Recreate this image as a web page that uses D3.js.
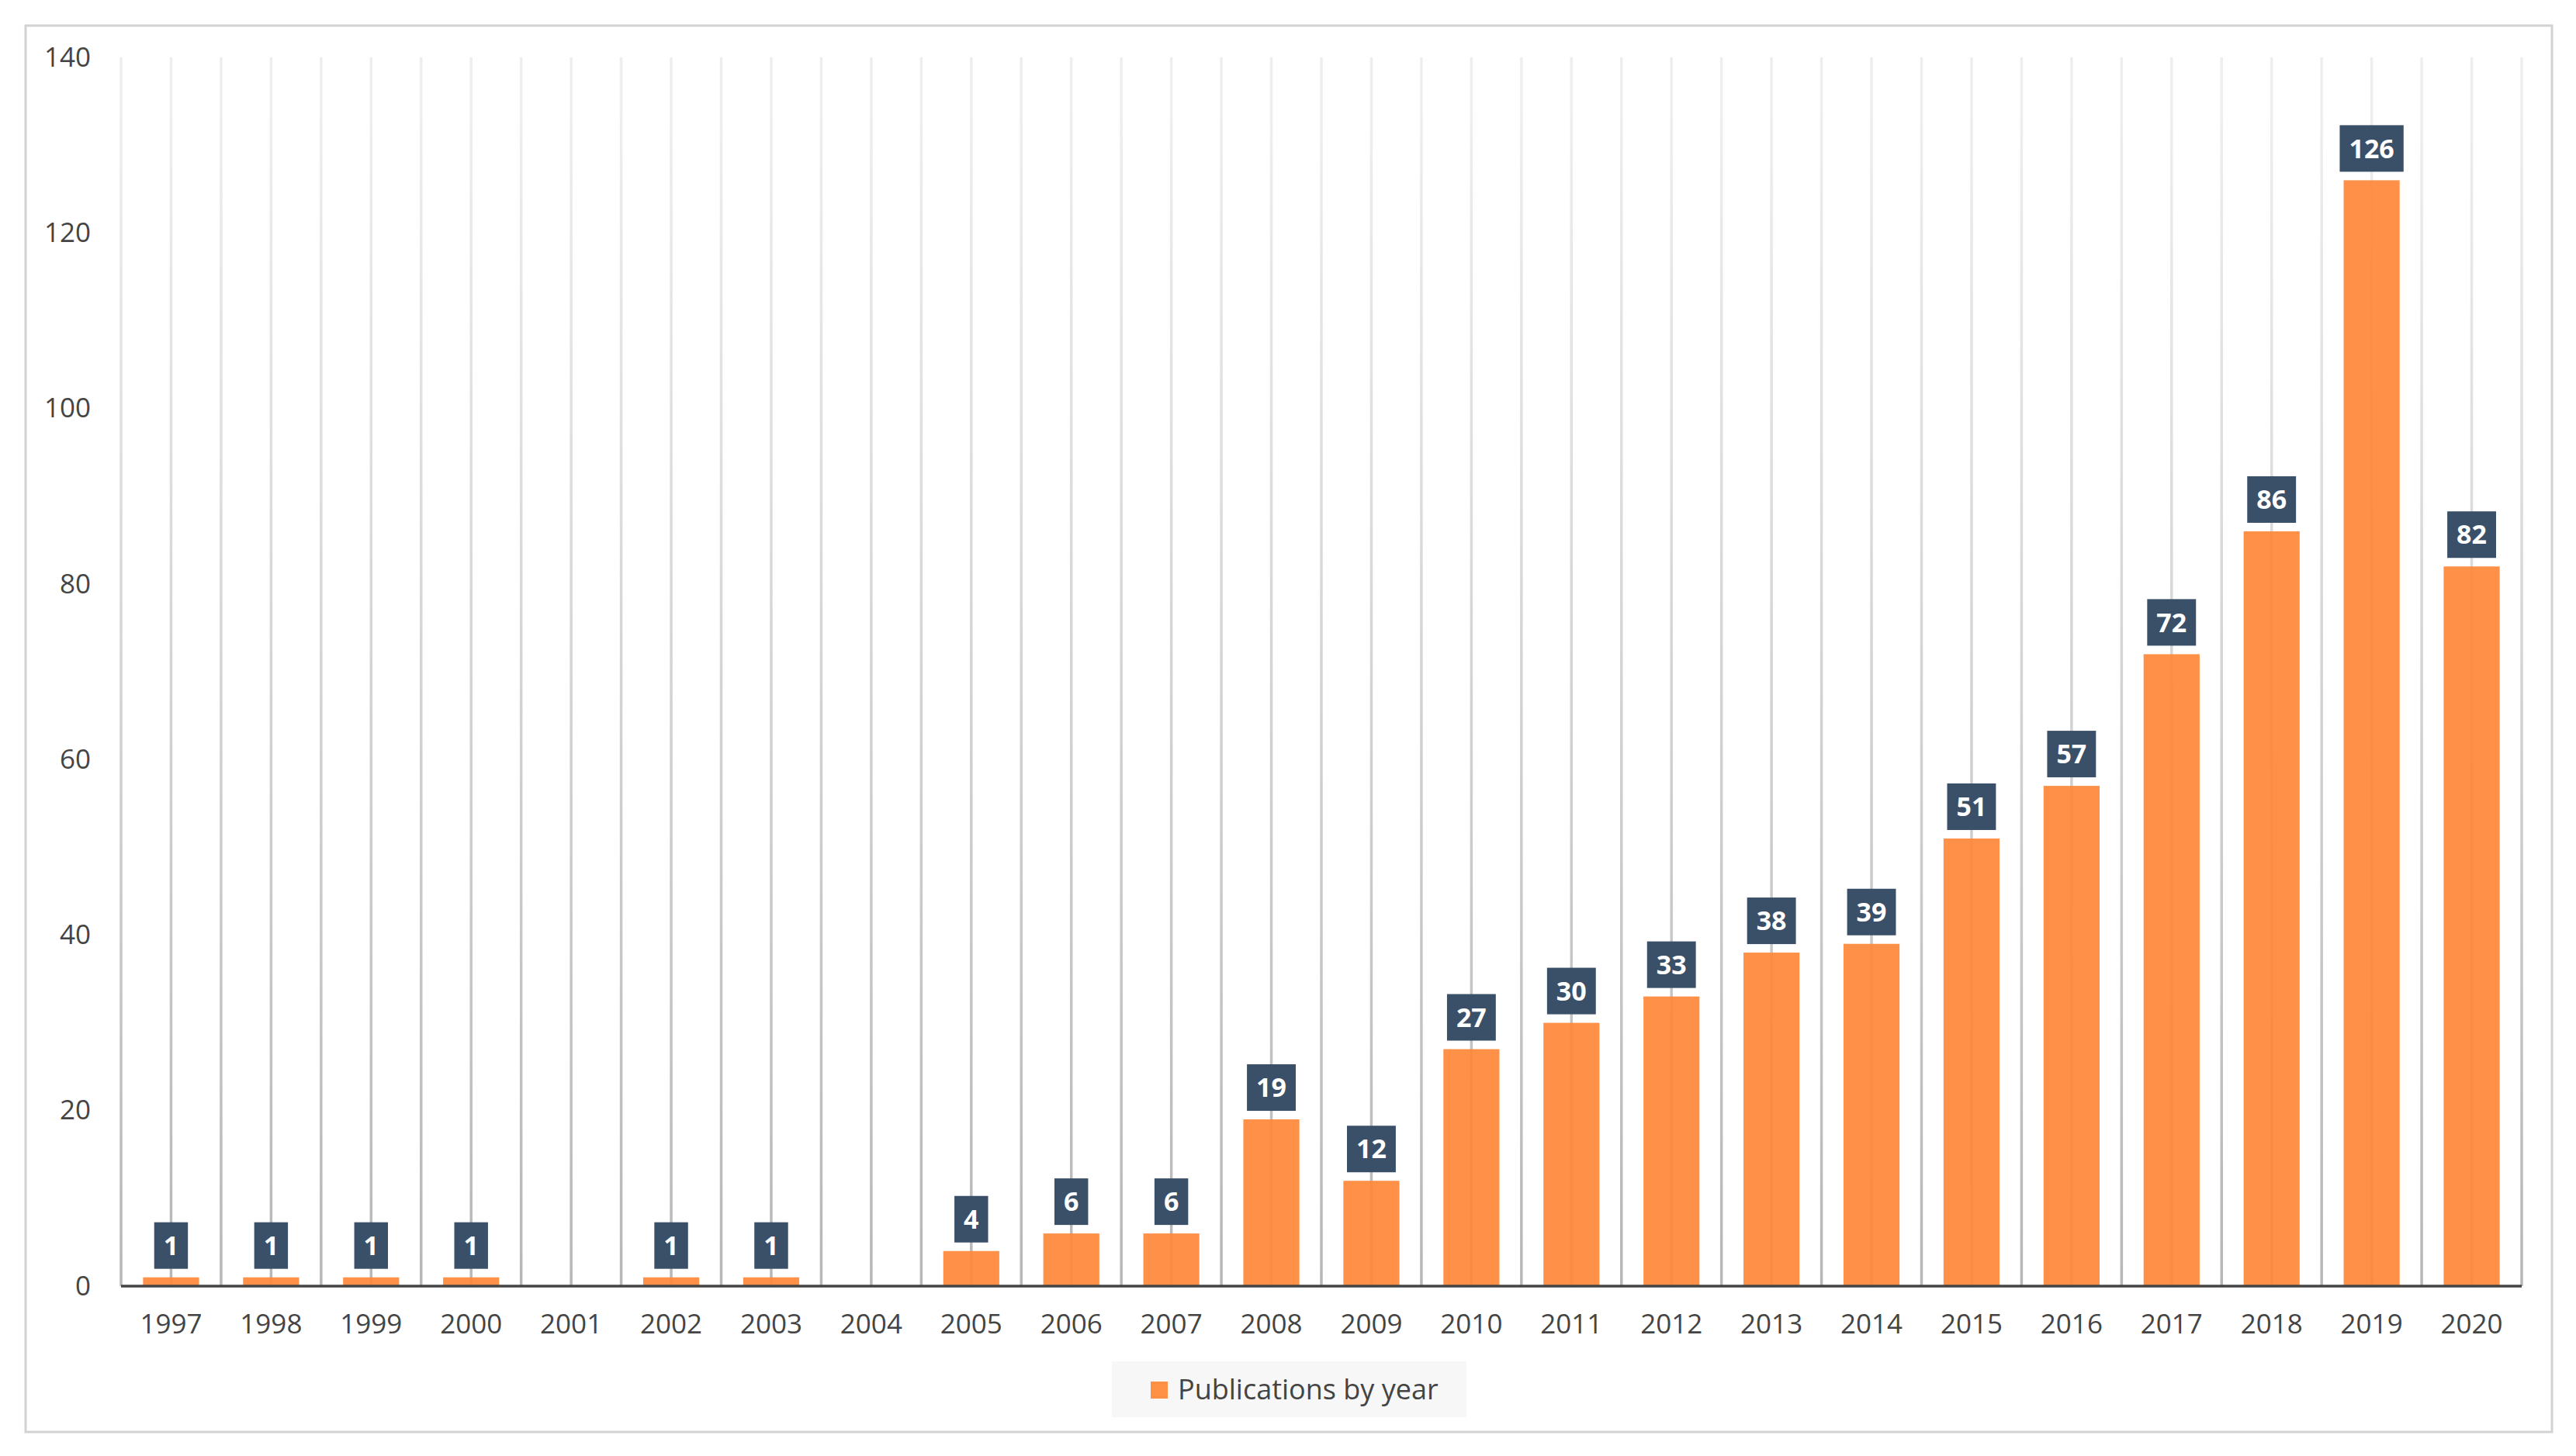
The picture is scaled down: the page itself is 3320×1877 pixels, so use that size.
<!DOCTYPE html>
<html>
<head>
<meta charset="utf-8">
<script src="https://cdn.jsdelivr.net/npm/d3@7"></script>
<style>
  body { margin: 0; background: #fff; }
  text { font-family: "Open Sans", sans-serif; }
</style>
</head>
<body>
<div id="chart"></div>
<script>
// Data
const years = ['1997','1998','1999','2000','2001','2002','2003','2004','2005','2006','2007','2008',
               '2009','2010','2011','2012','2013','2014','2015','2016','2017','2018','2019','2020'];
const publications = [1, 1, 1, 1, 0, 1, 1, 0, 4, 6, 6, 19, 12, 27, 30, 33, 38, 39, 51, 57, 72, 86, 126, 82];
const yTicks = [0, 20, 40, 60, 80, 100, 120, 140];
const seriesName = 'Publications by year';

const W = 3320, H = 1877;
const margin = {top: 74, right: 70, bottom: 219, left: 156};
const width = W - margin.left - margin.right;
const height = H - margin.top - margin.bottom;

const svg = d3.select('#chart')
    .append('svg')
    .attr('width', W)
    .attr('height', H);

// Outer frame
svg.append('rect')
    .attr('x', 33).attr('y', 33)
    .attr('width', 3256).attr('height', 1813)
    .attr('fill', '#fff')
    .attr('stroke', '#d2d2d2')
    .attr('stroke-width', 3);

// Gridline gradient (lighter at the top)
const defs = svg.append('defs');
const grad = defs.append('linearGradient')
    .attr('id', 'gridGrad')
    .attr('gradientUnits', 'userSpaceOnUse')
    .attr('x1', 0).attr('y1', margin.top)
    .attr('x2', 0).attr('y2', margin.top + height);
grad.append('stop').attr('offset', '0%').attr('stop-color', '#eeeeee');
grad.append('stop').attr('offset', '100%').attr('stop-color', '#b4b4b4');

const g = svg.append('g')
    .attr('transform', `translate(${margin.left},${margin.top})`);

// Scales
const x = d3.scaleBand()
    .domain(years)
    .range([0, width])
    .paddingInner(0.44)
    .paddingOuter(0.22);

const y = d3.scaleLinear()
    .domain([0, 140])
    .range([height, 0]);

// Vertical gridlines at category boundaries and centres
const step = x.step();
const gridX = [];
years.forEach((yr, i) => {
    gridX.push(i * step);
    gridX.push(i * step + step / 2);
});
gridX.push(years.length * step);

g.selectAll('.grid')
    .data(gridX)
    .enter()
    .append('line')
    .attr('class', 'grid')
    .attr('x1', d => d).attr('x2', d => d)
    .attr('y1', y(140)).attr('y2', y(0))
    .attr('stroke', 'url(#gridGrad)')
    .attr('stroke-width', 3.5);

// Bars
g.selectAll('.bar')
    .data(publications)
    .enter()
    .append('rect')
    .attr('class', 'bar')
    .attr('x', (d, i) => x(years[i]))
    .attr('y', d => y(d))
    .attr('width', x.bandwidth())
    .attr('height', d => height - y(d))
    .attr('fill', '#ff8737')
    .attr('fill-opacity', 0.92);

// Baseline
g.append('line')
    .attr('x1', 0).attr('x2', width)
    .attr('y1', y(0)).attr('y2', y(0))
    .attr('stroke', '#444')
    .attr('stroke-width', 3.5);

// Y axis labels
const yAxis = g.append('g')
    .call(d3.axisLeft(y).tickValues(yTicks).tickSize(0).tickPadding(39));
yAxis.select('.domain').remove();
yAxis.selectAll('text')
    .attr('font-size', 35)
    .attr('fill', '#444')
    .style('font-family', '"Open Sans", sans-serif');

// X axis labels
const xAxis = g.append('g')
    .attr('transform', `translate(0,${height})`)
    .call(d3.axisBottom(x).tickSize(0).tickPadding(36));
xAxis.select('.domain').remove();
xAxis.selectAll('text')
    .attr('font-size', 35)
    .attr('fill', '#444')
    .style('font-family', '"Open Sans", sans-serif');

// Data labels
const labels = g.selectAll('.lbl')
    .data(publications.map((v, i) => ({v, yr: years[i]})).filter(d => d.v > 0))
    .enter()
    .append('g')
    .attr('class', 'lbl');

labels.each(function(d) {
    const grp = d3.select(this);
    const cx = x(d.yr) + x.bandwidth() / 2;
    const boxBottom = y(d.v) - 11;
    const txt = grp.append('text')
        .attr('x', cx)
        .attr('y', boxBottom - 30)
        .attr('dy', '0.36em')
        .attr('text-anchor', 'middle')
        .attr('font-size', 34)
        .attr('font-weight', 'bold')
        .attr('fill', '#fff')
        .text(d.v);
    const bb = txt.node().getBBox();
    grp.insert('rect', 'text')
        .attr('x', cx - bb.width / 2 - 12)
        .attr('y', boxBottom - 60)
        .attr('width', bb.width + 24)
        .attr('height', 60)
        .attr('fill', '#3a4f68');
});

// Legend
const legend = svg.append('g');
legend.append('rect')
    .attr('x', 1433).attr('y', 1755)
    .attr('width', 457).attr('height', 72)
    .attr('fill', '#f7f7f7');
legend.append('rect')
    .attr('x', 1483).attr('y', 1781)
    .attr('width', 22).attr('height', 22)
    .attr('fill', '#ff9147');
legend.append('text')
    .attr('x', 1518).attr('y', 1804)
    .attr('font-size', 36)
    .attr('fill', '#444')
    .text(seriesName);
</script>
</body>
</html>
